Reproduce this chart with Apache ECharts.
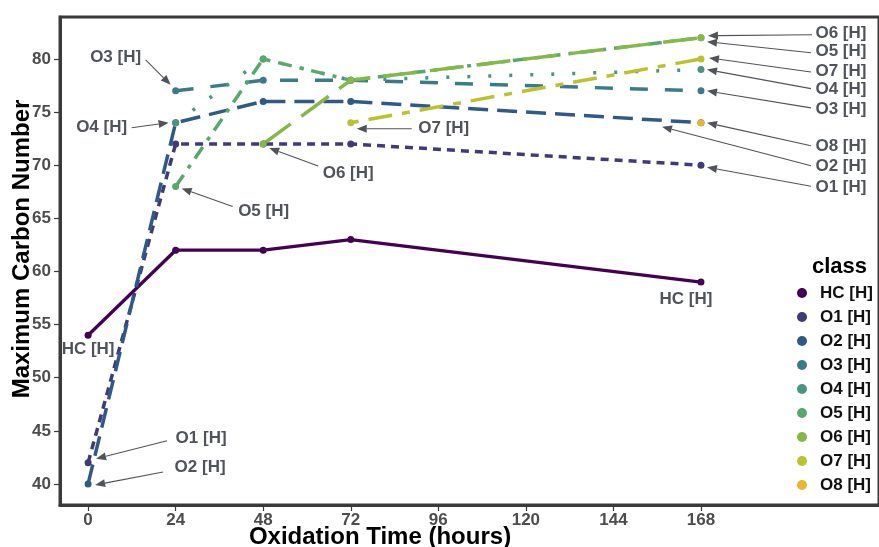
<!DOCTYPE html>
<html>
<head>
<meta charset="utf-8">
<script src="https://cdn.jsdelivr.net/npm/echarts@6/dist/echarts.min.js"></script>
<style>
  html, body { margin: 0; padding: 0; background: #fff; }
  #main { width: 879px; height: 547px; }
</style>
</head>
<body>
<div id="main"></div>
<script>
// data
var hours = [0, 24, 48, 72, 168];
var classes = ['HC [H]', 'O1 [H]', 'O2 [H]', 'O3 [H]', 'O4 [H]', 'O5 [H]', 'O6 [H]', 'O7 [H]', 'O8 [H]'];
var hcVals = [54, 62, 62, 63, 59];
var o1Vals = [42, 72, 72, 72, 70];
var o2Vals = [40, 74, 76, 76, 74];
var o3Vals = [null, 77, 78, 78, 77];
var o4Vals = [null, 74, 80, 78, 79];
var o5Vals = [null, 68, 80, 78, 82];
var o6Vals = [null, null, 72, 78, 82];
var o7Vals = [null, null, null, 74, 80];
var o8Vals = [null, null, null, null, 74];
var xTicks = [0, 24, 48, 72, 96, 120, 144, 168];
var yTicks = [40, 45, 50, 55, 60, 65, 70, 75, 80];

var allVals = [hcVals, o1Vals, o2Vals, o3Vals, o4Vals, o5Vals, o6Vals, o7Vals, o8Vals];
var colors = ['#440154', '#3f3a78', '#2f5a87', '#3a7b8b', '#4b9482', '#58a86b', '#84b948', '#bbc12f', '#e8b531'];
var dashes = ['solid', [8, 6], [20, 9], [18, 17], [3, 18], [14, 8, 4, 8], [34, 13], [8, 10, 24, 10], 'solid'];

// repel-style labels: point they belong to, then pixel offsets for text / arrow
var notes = [
  {text: 'O3 [H]', at: [24, 77], off: [-60, -34], from: [-30, -31], to: [-5, -6]},
  {text: 'O4 [H]', at: [24, 74], off: [-74, 5], from: [-44, 5], to: [-7, 0]},
  {text: 'O6 [H]', at: [48, 72], off: [85, 29], from: [55, 22], to: [6, 4]},
  {text: 'O5 [H]', at: [24, 68], off: [88, 25], from: [57, 20], to: [6, 2]},
  {text: 'O7 [H]', at: [72, 74], off: [93, 6], from: [61, 6], to: [6, 6]},
  {text: 'O1 [H]', at: [0, 42], off: [113, -24], from: [79, -22], to: [8, -4]},
  {text: 'O2 [H]', at: [0, 40], off: [112, -17], from: [75, -12], to: [7, 1]},
  {text: 'HC [H]', at: [0, 54], off: [0, 14]},
  {text: 'HC [H]', at: [168, 59], off: [-15, 17]},
  {text: 'O6 [H]', at: [168, 82], off: [140, -4], from: [111, -3], to: [7, -2]},
  {text: 'O5 [H]', at: [168, 82], off: [140, 14], from: [110, 15], to: [6, 4]},
  {text: 'O7 [H]', at: [168, 80], off: [140, 12], from: [110, 13], to: [8, -1]},
  {text: 'O4 [H]', at: [168, 79], off: [140, 20], from: [110, 19], to: [6, 0]},
  {text: 'O3 [H]', at: [168, 77], off: [140, 18], from: [110, 17], to: [6, 0]},
  {text: 'O8 [H]', at: [168, 74], off: [140, 24], from: [110, 23], to: [6, 0]},
  {text: 'O2 [H]', at: [168, 74], off: [140, 44], from: [110, 43], to: [-39, 4]},
  {text: 'O1 [H]', at: [168, 70], off: [140, 22], from: [110, 21], to: [6, 2]}
];

var FONT = '"Liberation Sans", Arial, sans-serif';
var myChart = echarts.init(document.getElementById('main'));

var series = classes.map(function (name, i) {
  var pts = [];
  allVals[i].forEach(function (v, j) {
    if (v != null) pts.push([hours[j], v]);
  });
  return {
    name: name,
    type: 'line',
    data: pts,
    symbol: 'circle',
    symbolSize: 7,
    showSymbol: true,
    animation: false,
    itemStyle: {color: colors[i]},
    lineStyle: {color: colors[i], width: i === 0 ? 3.3 : 3.5, type: dashes[i], cap: 'butt'},
    emphasis: {disabled: true}
  };
});

var axisLineStyle = {show: true, onZero: false, lineStyle: {color: '#3a3a3a', width: 3}};

var option = {
  animation: false,
  grid: {
    left: 60, right: 0, top: 17, bottom: 42,
    show: true, borderColor: '#3a3a3a', borderWidth: 3, backgroundColor: 'transparent'
  },
  xAxis: {
    type: 'value',
    min: -7.7,
    max: 216.8,
    axisLine: axisLineStyle,
    splitLine: {show: false},
    axisTick: {show: true, customValues: xTicks, length: 6, lineStyle: {color: '#3a3a3a', width: 1.2}},
    axisLabel: {customValues: xTicks, color: '#4d4d4d', fontFamily: FONT, fontWeight: 'bold', fontSize: 17, margin: 7}
  },
  yAxis: {
    type: 'value',
    min: 38.02,
    max: 83.95,
    axisLine: axisLineStyle,
    splitLine: {show: false},
    axisTick: {show: true, customValues: yTicks, length: 6, lineStyle: {color: '#3a3a3a', width: 1.2}},
    axisLabel: {customValues: yTicks, color: '#4d4d4d', fontFamily: FONT, fontWeight: 'bold', fontSize: 17, margin: 9}
  },
  legend: {
    data: classes,
    orient: 'vertical',
    left: 792,
    top: 279,
    icon: 'circle',
    itemWidth: 10,
    itemHeight: 10,
    itemGap: 6,
    selectedMode: false,
    textStyle: {color: '#111', fontFamily: FONT, fontWeight: 'bold', fontSize: 17, lineHeight: 18, padding: [0, 0, 0, 8]}
  },
  series: series,
  graphic: [
    {type: 'text', left: 812, top: 256, style: {text: 'class', fill: '#000', font: 'bold 22px ' + FONT}},
    {type: 'text', x: 380, y: 537, style: {text: 'Oxidation Time (hours)', fill: '#000', font: 'bold 24px ' + FONT, textAlign: 'center', textVerticalAlign: 'middle'}},
    {type: 'text', x: 22, y: 249, rotation: Math.PI / 2, style: {text: 'Maximum Carbon Number', fill: '#000', font: 'bold 24px ' + FONT, textAlign: 'center', textVerticalAlign: 'middle'}}
  ]
};
myChart.setOption(option);

// labels + arrows placed from the point positions the axes give
var extra = [];
notes.forEach(function (n) {
  var p = myChart.convertToPixel({gridIndex: 0}, n.at);
  extra.push({
    type: 'text', z: 100, x: p[0] + n.off[0], y: p[1] + n.off[1],
    style: {text: n.text, fill: '#50545a', font: 'bold 17px ' + FONT, textAlign: 'center', textVerticalAlign: 'middle'}
  });
  if (n.from) {
    var x1 = p[0] + n.from[0], y1 = p[1] + n.from[1];
    var x2 = p[0] + n.to[0], y2 = p[1] + n.to[1];
    var ang = Math.atan2(y2 - y1, x2 - x1);
    var L = 10, W = 4;
    var bx = x2 - L * Math.cos(ang), by = y2 - L * Math.sin(ang);
    extra.push({type: 'line', z: 100, shape: {x1: x1, y1: y1, x2: bx, y2: by}, style: {stroke: '#50545a', lineWidth: 1.1}});
    extra.push({
      type: 'polygon', z: 100,
      shape: {points: [[x2, y2], [bx + W * Math.sin(ang), by - W * Math.cos(ang)], [bx - W * Math.sin(ang), by + W * Math.cos(ang)]]},
      style: {fill: '#50545a'}
    });
  }
});
myChart.setOption({graphic: option.graphic.concat(extra)});
</script>
</body>
</html>
